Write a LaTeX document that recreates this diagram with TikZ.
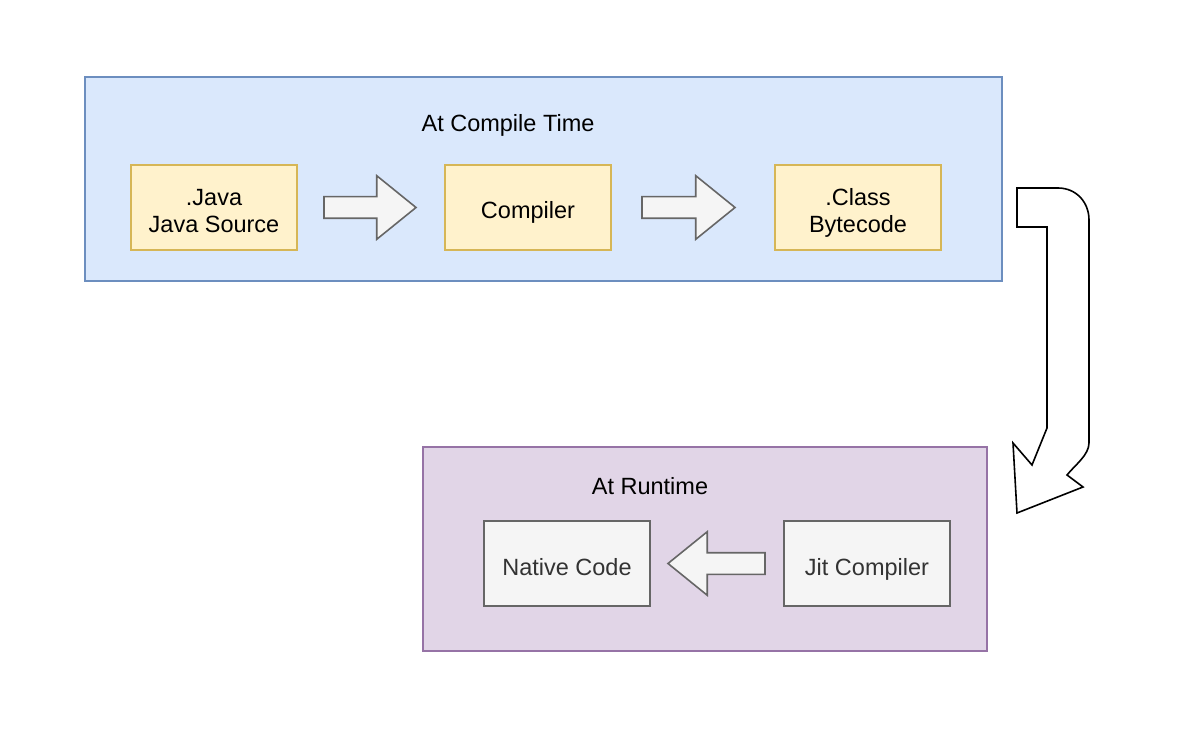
\documentclass[tikz,border=0pt]{standalone}
\usepackage{fontspec}
\setmainfont{Liberation Sans}
\usetikzlibrary{positioning,shapes.arrows}

\definecolor{bfill}{HTML}{DAE8FC}
\definecolor{bdraw}{HTML}{6C8EBF}
\definecolor{yfill}{HTML}{FFF2CC}
\definecolor{ydraw}{HTML}{D6B656}
\definecolor{pfill}{HTML}{E1D5E7}
\definecolor{pdraw}{HTML}{9673A6}
\definecolor{gfill}{HTML}{F5F5F5}
\definecolor{gdraw}{HTML}{666666}
\definecolor{gtext}{HTML}{333333}

\begin{document}
\begin{tikzpicture}[x=1pt,y=-1pt,
                    every node/.style={font=\fontsize{23.5}{27}\selectfont},
                    box/.style={draw,line width=1.6pt,minimum width=166pt,minimum height=85pt,align=center,
                                inner sep=0pt,outer sep=0pt,text height=23pt,text depth=0pt},
                    twolines/.style={text height=50pt},
                    ybox/.style={box,fill=yfill,draw=ydraw},
                    gbox/.style={box,fill=gfill,draw=gdraw,text=gtext},
                    blockarrow/.style={single arrow,draw=gdraw,fill=gfill,line width=1.6pt,minimum height=92pt,outer sep=0pt,
                                       inner xsep=0pt,inner ysep=10pt,single arrow head extend=21pt,single arrow tip angle=78}]

\useasboundingbox (0,0) rectangle (1192,738);

% compile time
\draw[fill=bfill,draw=bdraw,line width=1.6pt] (85,77) rectangle (1002,281);
\node[anchor=base] (compiletime) at (508,132) {At Compile Time};
\node[ybox,twolines] (java) at (214,207.5) {.Java\\Java Source};
\node[ybox,right=148pt of java] (compiler) {Compiler};
\node[ybox,twolines,right=164pt of compiler] (class) {.Class\\Bytecode};
\node[blockarrow,right=27pt of java] (javatocompiler) {};
\node[blockarrow,right=31pt of compiler,minimum height=93pt] (compilertoclass) {};

% runtime
\draw[fill=pfill,draw=pdraw,line width=1.6pt] (423,447) rectangle (987,651);
\node[anchor=base] (runtime) at (650,494) {At Runtime};
\node[gbox] (native) at (567,563.5) {Native Code};
\node[gbox,right=134pt of native] (jit) {Jit Compiler};
\node[blockarrow,shape border rotate=180,minimum height=97pt,left=19pt of jit] (jittonative) {};

% bent arrow between the two stages
\draw[line width=1.6pt,fill=white,line join=miter] (1017,188) -- (1058,188)
  .. controls (1076,188) and (1089,202) .. (1089,220) -- (1089,443)
  .. controls (1089,455) and (1075,465) .. (1067,475) -- (1083,487) -- (1017,513) -- (1013,443)
  -- (1032,465) -- (1047,428) -- (1047,227) -- (1017,227) -- cycle;

\end{tikzpicture}
\end{document}
